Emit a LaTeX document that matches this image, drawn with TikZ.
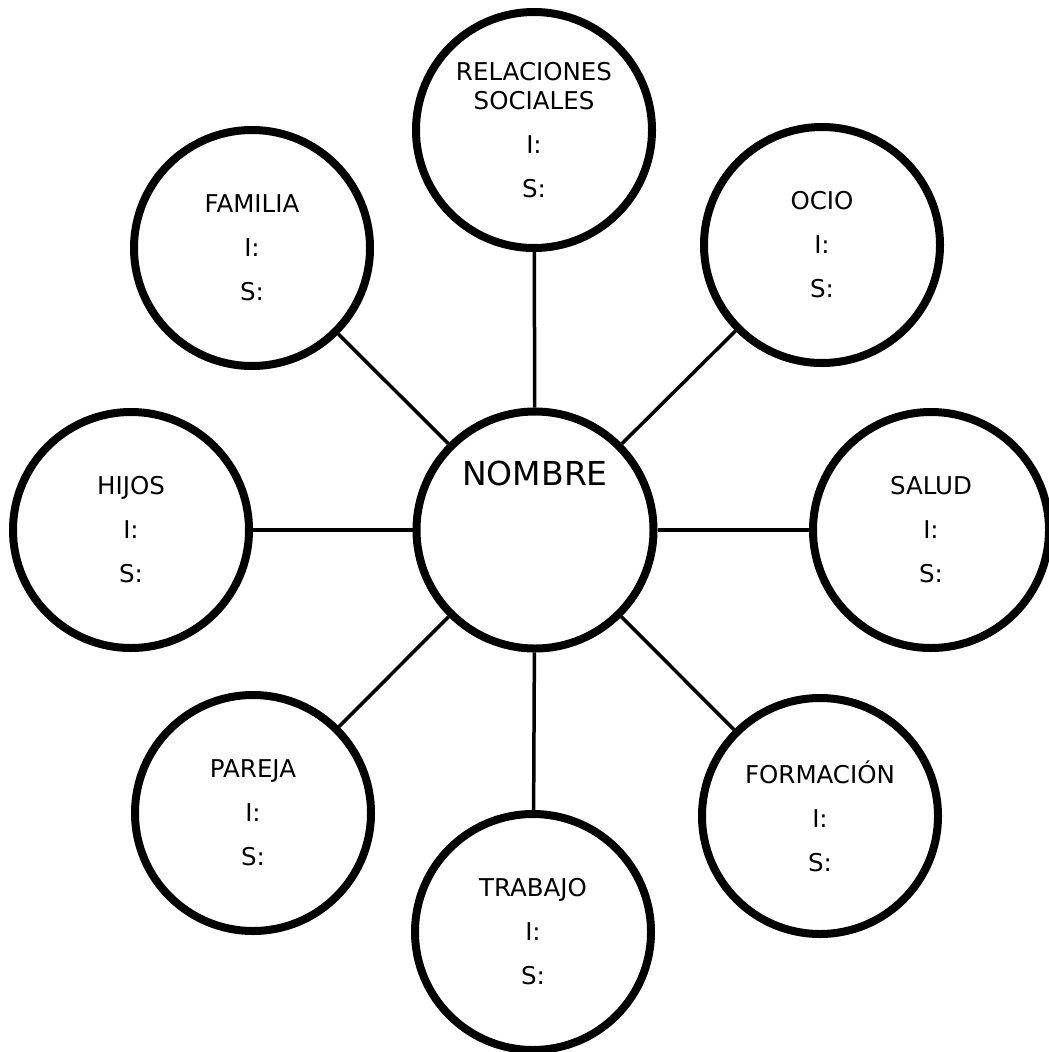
\documentclass[tikz,border=0pt]{standalone}
\usepackage{fontspec}
\setmainfont{DejaVu Sans}
\begin{document}
\begin{tikzpicture}[x=1pt,y=-1pt,
  bub/.style={circle, draw=black, fill=white, line width=8pt, minimum size=236pt, inner sep=0pt, align=center, font=\fontsize{24.5}{44}\selectfont},
  link/.style={draw=black, line width=3.5pt}]
\useasboundingbox[fill=white] (0,0) rectangle (1049,1052);
\node[bub, minimum size=237pt] (c) at (535,530) {};
\node[font=\fontsize{33}{36}\selectfont] (cname) at (535,473) {NOMBRE};
\node[bub] (rel) at (534,130) {RELACIONES\\[-15pt]SOCIALES\\I:\\S:};
\node[bub] (fam) at (252,248) {FAMILIA\\I:\\S:};
\node[bub] (ocio) at (822,245) {OCIO\\I:\\S:};
\node[bub] (hij) at (131,530) {HIJOS\\I:\\S:};
\node[bub] (sal) at (931,530) {SALUD\\I:\\S:};
\node[bub] (par) at (253,813) {PAREJA\\I:\\S:};
\node[bub] (trab) at (533,932) {TRABAJO\\I:\\S:};
\node[bub] (form) at (820,816) {FORMACIÓN\\I:\\S:};
\foreach \n in {rel,fam,ocio,hij,sal,par,trab,form}{
  \draw[link] (c) -- (\n);
}
\end{tikzpicture}
\end{document}
